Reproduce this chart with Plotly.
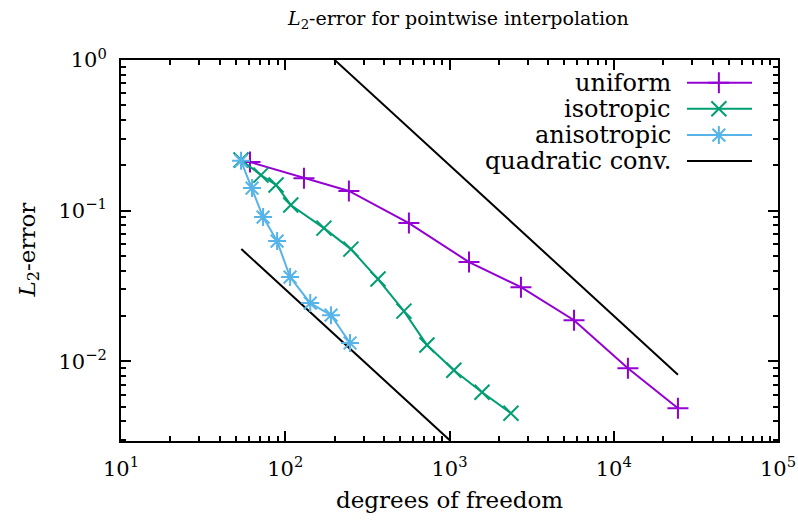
import plotly.graph_objects as go

# ---- data ----
uniform_dof = [61, 130, 244, 566, 1315, 2723, 5730, 12200, 24600]
uniform_err = [0.210, 0.164, 0.135, 0.0826, 0.0455, 0.0310, 0.0187, 0.00898, 0.00487]

iso_dof = [53.8, 71.1, 87.9, 108, 172, 251, 367, 528, 729, 1063, 1578, 2366]
iso_err = [0.217, 0.172, 0.148, 0.109, 0.0765, 0.0555, 0.0351, 0.0215, 0.0128, 0.00871, 0.00622, 0.00451]

aniso_dof = [53.8, 62.8, 73.3, 89.2, 107, 142, 190, 248]
aniso_err = [0.214, 0.141, 0.0905, 0.0627, 0.0362, 0.0243, 0.0202, 0.0132]

quad_upper_dof = [198, 24600]
quad_upper_err = [200 / 198, 200 / 24600]
quad_lower_dof = [54, 1000]
quad_lower_err = [3 / 54, 3 / 1000]

x_tick_vals = [10, 100, 1000, 10000, 100000]
x_tick_text = ["10<sup>1</sup>", "10<sup>2</sup>", "10<sup>3</sup>", "10<sup>4</sup>", "10<sup>5</sup>"]
y_tick_vals = [0.01, 0.1, 1]
y_tick_text = ["10<sup>\u22122</sup>", "10<sup>\u22121</sup>", "10<sup>0</sup>"]

legend_names = ["uniform", "isotropic", "anisotropic", "quadratic conv."]

C_UNI = "#9400d3"
C_ISO = "#009e73"
C_ANI = "#56b4e9"
C_BLK = "#000000"
FONT = "DejaVu Serif"
FS_TICK = 21
FS_LAB = 23
FS_LEG = 24

fig = go.Figure()

def series(x, y, color, symbol, name):
    fig.add_trace(go.Scatter(
        x=x, y=y, mode="lines+markers", name=name, showlegend=False,
        line=dict(color=color, width=2),
        marker=dict(symbol=symbol, size=15, color=color,
                    line=dict(color=color, width=2)),
    ))

fig.add_trace(go.Scatter(x=quad_upper_dof, y=quad_upper_err, mode="lines",
                         line=dict(color=C_BLK, width=2), showlegend=False))
fig.add_trace(go.Scatter(x=quad_lower_dof, y=quad_lower_err, mode="lines",
                         line=dict(color=C_BLK, width=2), showlegend=False))
series(uniform_dof, uniform_err, C_UNI, "cross-thin", legend_names[0])
series(iso_dof, iso_err, C_ISO, "x-thin", legend_names[1])
series(aniso_dof, aniso_err, C_ANI, "asterisk", legend_names[2])

# ---- gnuplot-style legend: text on the left, sample on the right ----
leg_y = [0.940, 0.872, 0.803, 0.735]
leg_x0, leg_x1, leg_xm, leg_xt = 0.8615, 0.9604, 0.910, 0.840
leg_styles = [(C_UNI, "cross-thin"), (C_ISO, "x-thin"), (C_ANI, "asterisk"), (C_BLK, None)]
for name, yy, (col, sym) in zip(legend_names, leg_y, leg_styles):
    fig.add_trace(go.Scatter(x=[leg_x0, leg_x1], y=[yy, yy], mode="lines",
                             line=dict(color=col, width=2), xaxis="x2", yaxis="y2",
                             showlegend=False, hoverinfo="skip"))
    if sym:
        fig.add_trace(go.Scatter(x=[leg_xm], y=[yy], mode="markers",
                                 marker=dict(symbol=sym, size=15, color=col,
                                             line=dict(color=col, width=2)),
                                 xaxis="x2", yaxis="y2", showlegend=False,
                                 hoverinfo="skip"))
    fig.add_annotation(x=leg_xt, y=yy, xref="paper", yref="paper", text=name,
                       showarrow=False, xanchor="right", yanchor="middle",
                       font=dict(family=FONT, size=FS_LEG, color="black"))

minor_x = [m * 10 ** k for k in range(1, 5) for m in range(2, 10)]
minor_y = [m * 10 ** k for k in range(-3, 0) for m in range(2, 10)]

axis_common = dict(
    type="log", showgrid=False, zeroline=False, showline=True,
    linecolor="black", linewidth=2, mirror="allticks", automargin=False,
    ticks="inside", ticklen=10, tickwidth=1.5, tickcolor="black",
    ticklabelstandoff=8,
    tickfont=dict(family=FONT, size=FS_TICK, color="black"),
)

fig.update_layout(
    width=798, height=521,
    margin=dict(l=121, r=20, t=60, b=80, autoexpand=False),
    paper_bgcolor="white", plot_bgcolor="white",
    showlegend=False,
    font=dict(family=FONT, size=FS_LAB, color="black"),
    xaxis=dict(range=[1, 5], tickmode="array", tickvals=x_tick_vals,
               ticktext=x_tick_text,
               minor=dict(tickmode="array", tickvals=minor_x, ticks="inside",
                          ticklen=5, tickwidth=1.5, tickcolor="black"),
               **axis_common),
    yaxis=dict(range=[-2.53, 0], tickmode="array", tickvals=y_tick_vals,
               ticktext=y_tick_text,
               minor=dict(tickmode="array", tickvals=minor_y, ticks="inside",
                          ticklen=5, tickwidth=1.5, tickcolor="black"),
               **axis_common),
    xaxis2=dict(overlaying="x", range=[0, 1], visible=False, fixedrange=True),
    yaxis2=dict(overlaying="y", range=[0, 1], visible=False, fixedrange=True),
)

fig.add_annotation(x=(458 - 121) / 657, y=1.0 + 41 / 381, xref="paper", yref="paper",
                   text="<i>L</i><sub>2</sub>-error for pointwise interpolation",
                   showarrow=False, xanchor="center", yanchor="middle",
                   font=dict(family=FONT, size=19, color="black"))
fig.add_annotation(x=0.5, y=-59 / 381, xref="paper", yref="paper",
                   text="degrees of freedom", showarrow=False,
                   xanchor="center", yanchor="middle",
                   font=dict(family=FONT, size=FS_LAB, color="black"))
fig.add_annotation(x=-93 / 657, y=0.5, xref="paper", yref="paper",
                   text="<i>L</i><sub>2</sub>-error", showarrow=False,
                   textangle=-90, xanchor="center", yanchor="middle",
                   font=dict(family=FONT, size=FS_LAB, color="black"))

fig.write_html("out.html", config={"displayModeBar": False},
               post_script="document.body.style.margin='0px';")
